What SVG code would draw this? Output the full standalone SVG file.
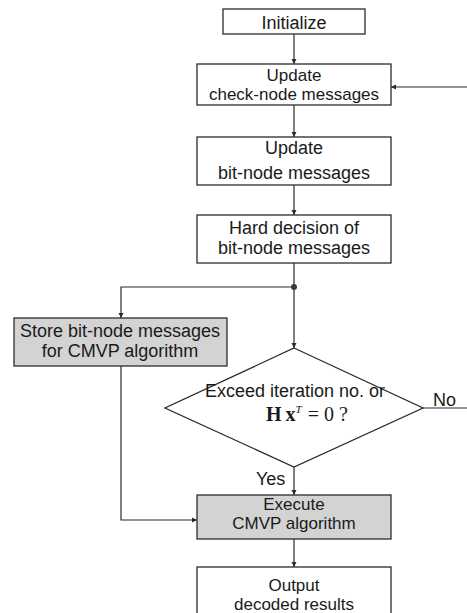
<svg xmlns="http://www.w3.org/2000/svg" width="467" height="613" viewBox="0 0 467 613">
  <defs>
    <marker id="arrow" viewBox="0 0 10 10" refX="10" refY="5" markerWidth="5" markerHeight="6" markerUnits="userSpaceOnUse" orient="auto">
      <path d="M0,0 L10,5 L0,10 Z" fill="#2b2b2b"/>
    </marker>
  </defs>
  <style>
    .box { fill: #ffffff; stroke: #2b2b2b; stroke-width: 1.3; }
    .shaded { fill: #d3d3d3; stroke: #2b2b2b; stroke-width: 1.3; }
    .lbl { font-family: "Liberation Sans", Arial, sans-serif; font-size: 18px; fill: #1a1a1a; text-anchor: middle; }
    .tight { font-size: 17px; }
    .side { font-family: "Liberation Sans", Arial, sans-serif; font-size: 18px; fill: #1a1a1a; }
    .math { font-family: "Liberation Serif", "Times New Roman", serif; font-size: 20px; fill: #1a1a1a; }
    .wire { fill: none; stroke: #2b2b2b; stroke-width: 1.2; }
    .wire-arrow { fill: none; stroke: #2b2b2b; stroke-width: 1.2; marker-end: url(#arrow); }
  </style>

  <rect width="467" height="613" fill="#ffffff"/>

  <!-- connectors -->
  <g id="connectors">
    <line class="wire-arrow" x1="294" y1="34" x2="294" y2="64"/>
    <line class="wire-arrow" x1="294" y1="105" x2="294" y2="137"/>
    <line class="wire-arrow" x1="294" y1="185" x2="294" y2="215"/>
    <line class="wire-arrow" x1="294" y1="263" x2="294" y2="348"/>
    <polyline class="wire-arrow" points="294,287 121,287 121,318"/>
    <circle cx="294" cy="287" r="3" fill="#3a3a3a"/>
    <polyline class="wire-arrow" points="121,366 121,520 197,520"/>
    <line class="wire-arrow" x1="294" y1="467" x2="294" y2="495"/>
    <line class="wire-arrow" x1="294" y1="539" x2="294" y2="567"/>
    <line class="wire" x1="423" y1="408" x2="467" y2="408"/>
    <line class="wire-arrow" x1="467" y1="87" x2="391" y2="87"/>
    <text class="side" x="433" y="406">No</text>
    <text class="side" x="256" y="485">Yes</text>
  </g>

  <g id="initialize">
    <rect class="box" x="223" y="9" width="142" height="25"/>
    <text class="lbl" x="294" y="29">Initialize</text>
  </g>

  <g id="update-check">
    <rect class="box" x="197" y="64" width="194" height="41"/>
    <text class="lbl tight" x="294" y="81">Update</text>
    <text class="lbl tight" x="294" y="100">check-node messages</text>
  </g>

  <g id="update-bit">
    <rect class="box" x="197" y="137" width="194" height="48"/>
    <text class="lbl" x="294" y="154">Update</text>
    <text class="lbl" x="294" y="179">bit-node messages</text>
  </g>

  <g id="hard-decision">
    <rect class="box" x="197" y="215" width="194" height="48"/>
    <text class="lbl" x="294" y="234">Hard decision of</text>
    <text class="lbl" x="294" y="254">bit-node messages</text>
  </g>

  <g id="store">
    <rect class="shaded" x="14" y="318" width="213" height="48"/>
    <text class="lbl" x="120" y="337">Store bit-node messages</text>
    <text class="lbl" x="120" y="357">for CMVP algorithm</text>
  </g>

  <g id="decision">
    <polygon class="box" points="294,348 423,408 294,467 165,408"/>
    <text class="lbl" x="295" y="397">Exceed iteration no. or</text>
    <text class="math" x="266" y="421"><tspan font-weight="bold">H</tspan><tspan dx="4" font-weight="bold">x</tspan><tspan font-style="italic" font-size="11" dy="-8">T</tspan><tspan dy="8" dx="6">= 0 ?</tspan></text>
  </g>

  <g id="execute">
    <rect class="shaded" x="197" y="495" width="194" height="44"/>
    <text class="lbl tight" x="294" y="510">Execute</text>
    <text class="lbl tight" x="294" y="529">CMVP algorithm</text>
  </g>

  <g id="output">
    <rect class="box" x="197" y="567" width="194" height="60"/>
    <text class="lbl tight" x="294" y="591">Output</text>
    <text class="lbl tight" x="294" y="610">decoded results</text>
  </g>
</svg>
